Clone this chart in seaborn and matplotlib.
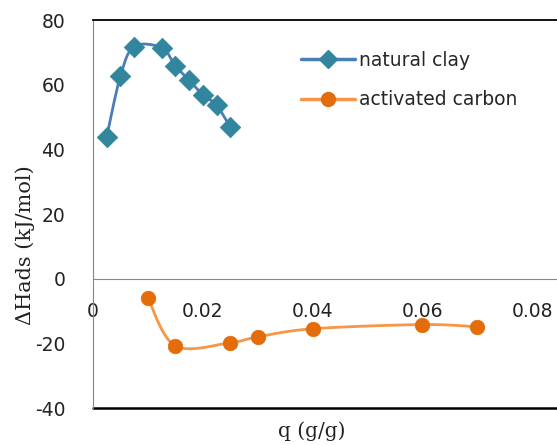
import numpy as np
import pandas as pd
import matplotlib
matplotlib.use("Agg")
import matplotlib.pyplot as plt
from matplotlib.lines import Line2D
import seaborn as sns

# data
clay_q = [0.0025, 0.005, 0.0075, 0.0125, 0.015, 0.0175, 0.02, 0.0225, 0.025]
clay_dh = [43.9, 62.7, 71.8, 71.4, 65.9, 61.3, 56.9, 53.6, 46.9]
carbon_q = [0.01, 0.015, 0.025, 0.03, 0.04, 0.06, 0.07]
carbon_dh = [-6.0, -20.8, -19.8, -18.0, -15.5, -14.2, -14.9]

x_ticks = [0, 0.02, 0.04, 0.06, 0.08]
x_tick_labels = ["0", "0.02", "0.04", "0.06", "0.08"]
y_ticks = [-40, -20, 0, 20, 40, 60, 80]

CLAY_LINE, CLAY_MARK = "#4a7ebb", "#31859c"
CARB_LINE, CARB_MARK = "#f79646", "#e46c0a"


def smooth(xs, ys, n=20):
    """Catmull-Rom style smoothing, like Excel's 'smoothed line' option."""
    xs, ys = np.asarray(xs, float), np.asarray(ys, float)
    # Excel keeps the end segments straighter: repeat the end points
    px = np.concatenate([[xs[0]], xs, [xs[-1]]])
    py = np.concatenate([[ys[0]], ys, [ys[-1]]])
    out_x, out_y = [], []
    t = np.linspace(0, 1, n, endpoint=False)
    for i in range(1, len(px) - 2):
        for arr, out in ((px, out_x), (py, out_y)):
            p0, p1, p2, p3 = arr[i - 1], arr[i], arr[i + 1], arr[i + 2]
            out.extend(0.5 * ((2 * p1) + (-p0 + p2) * t
                              + (2 * p0 - 5 * p1 + 4 * p2 - p3) * t ** 2
                              + (-p0 + 3 * p1 - 3 * p2 + p3) * t ** 3))
    out_x.append(xs[-1])
    out_y.append(ys[-1])
    return np.array(out_x), np.array(out_y)


sns.set_style("white")
plt.rcParams["font.family"] = ["DejaVu Sans"]

fig = plt.figure(figsize=(5.57, 4.45), dpi=100)
ax = fig.add_axes([93 / 557, 1 - 408 / 445, (557 - 93) / 557, (408 - 20) / 445])

for xs, ys, lc, mc, mk, ms in [
    (clay_q, clay_dh, CLAY_LINE, CLAY_MARK, "D", 110),
    (carbon_q, carbon_dh, CARB_LINE, CARB_MARK, "o", 110),
]:
    sx, sy = smooth(xs, ys)
    sns.lineplot(x=sx, y=sy, sort=False, color=lc, lw=2, ax=ax, legend=False)
    sns.scatterplot(x=xs, y=ys, marker=mk, s=ms, color=mc, edgecolor=mc,
                    linewidth=0.5, ax=ax, legend=False, zorder=3)

ax.set_xlim(0, 0.0845)
ax.set_ylim(-40, 80)
ax.set_xticks(x_ticks)
ax.set_xticklabels(x_tick_labels)
ax.set_yticks(y_ticks)
ax.set_yticklabels([str(v) for v in y_ticks])

# x axis crosses at zero, plot area framed in black at top and bottom
ax.spines["bottom"].set_position(("data", 0))
ax.spines["bottom"].set_color("#868686")
ax.spines["left"].set_color("#868686")
ax.spines["right"].set_visible(False)
ax.spines["top"].set_color("black")
ax.spines["top"].set_linewidth(1.3)
ax.axhline(-40, color="black", lw=1.8, clip_on=False)

ax.tick_params(axis="x", direction="inout", length=14, width=1, color="#868686",
               pad=10, labelsize=13.5, labelcolor="#222222")
ax.tick_params(axis="y", direction="out", length=8, width=1, color="#868686",
               pad=12, labelsize=13.5, labelcolor="#222222")
ax.set_xlabel("")
ax.set_ylabel("")

fig.text(25 / 557, 1 - 245 / 445, "ΔHads (kJ/mol)", rotation=90, ha="center",
         va="center", fontsize=15, family="DejaVu Serif", color="#222222")
fig.text(312 / 557, 1 - 431 / 445, "q (g/g)", ha="center", va="center",
         fontsize=14.5, family="DejaVu Serif", color="#222222")

handles = [
    Line2D([], [], color=CLAY_LINE, lw=2.5, marker="D", markersize=9,
           markerfacecolor=CLAY_MARK, markeredgecolor=CLAY_MARK),
    Line2D([], [], color=CARB_LINE, lw=2.5, marker="o", markersize=10,
           markerfacecolor=CARB_MARK, markeredgecolor=CARB_MARK),
]
fig.legend(handles, ["natural clay", "activated carbon"],
           loc="upper left", bbox_to_anchor=(293 / 557, 1 - 43 / 445),
           frameon=False, fontsize=13.5, handlelength=2.9, handletextpad=0.2,
           labelspacing=1.1, borderaxespad=0)

fig.savefig("out.png", dpi=100)
